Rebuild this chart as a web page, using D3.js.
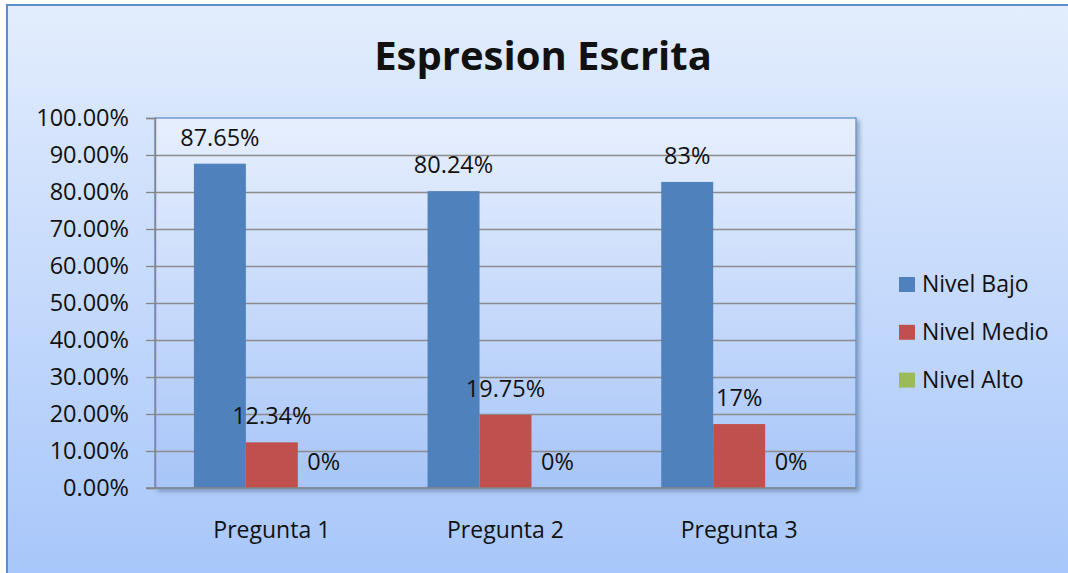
<!DOCTYPE html>
<html>
<head>
<meta charset="utf-8">
<script src="https://cdn.jsdelivr.net/npm/d3@7"></script>
<style>
  html, body { margin: 0; padding: 0; background: #ffffff; }
  svg { display: block; }
  text { font-family: "Open Sans", "Noto Sans", sans-serif; fill: #111; }
</style>
</head>
<body>
<svg id="chart" width="1068" height="573"></svg>
<script>
// ---- data ----
const categories = ["Pregunta 1", "Pregunta 2", "Pregunta 3"];
const series = ["Nivel Bajo", "Nivel Medio", "Nivel Alto"];
const nivelBajo  = [87.65, 80.24, 82.72];
const nivelMedio = [12.34, 19.75, 17.28];
const nivelAlto  = [0, 0, 0];
const labelsBajo  = ["87.65%", "80.24%", "83%"];
const labelsMedio = ["12.34%", "19.75%", "17%"];
const labelsAlto  = ["0%", "0%", "0%"];
const yTicks = [0, 10, 20, 30, 40, 50, 60, 70, 80, 90, 100];
const title = "Espresion Escrita";
const colors = ["#4f81bd", "#c0504d", "#9bbb59"];

const seriesValues = [nivelBajo, nivelMedio, nivelAlto];
const seriesLabels = [labelsBajo, labelsMedio, labelsAlto];

const svg = d3.select("#chart");
const W = 1068, H = 573;
const plot = { left: 155, top: 118, right: 856, bottom: 488 };

const defs = svg.append("defs");
const bgGrad = defs.append("linearGradient").attr("id", "bgGrad")
  .attr("x1", 0).attr("y1", 0).attr("x2", 0).attr("y2", 1);
bgGrad.append("stop").attr("offset", "0%").attr("stop-color", "#e3edfd");
bgGrad.append("stop").attr("offset", "100%").attr("stop-color", "#a5c5fa");

const plotGrad = defs.append("linearGradient").attr("id", "plotGrad")
  .attr("x1", 0).attr("y1", 0).attr("x2", 0).attr("y2", 1);
plotGrad.append("stop").attr("offset", "0%").attr("stop-color", "#e7effe");
plotGrad.append("stop").attr("offset", "100%").attr("stop-color", "#a7c5f8");

const shadow = defs.append("filter").attr("id", "shadow")
  .attr("x", "-5%").attr("y", "-5%").attr("width", "115%").attr("height", "115%");
shadow.append("feDropShadow").attr("dx", 3).attr("dy", 3).attr("stdDeviation", 2)
  .attr("flood-color", "#5a6f90").attr("flood-opacity", 0.55);

// outer chart area
svg.append("rect").attr("x", 7).attr("y", 5).attr("width", W + 20).attr("height", H + 20)
  .attr("fill", "url(#bgGrad)").attr("stroke", "#5b8ccc").attr("stroke-width", 2);

// plot area
svg.append("rect")
  .attr("x", plot.left).attr("y", plot.top)
  .attr("width", plot.right - plot.left).attr("height", plot.bottom - plot.top)
  .attr("fill", "url(#plotGrad)").attr("stroke", "#6f9bd3").attr("stroke-width", 1.5)
  .attr("filter", "url(#shadow)");

// scales
const x0 = d3.scaleBand().domain(categories).range([plot.left, plot.right])
  .paddingInner(0.333).paddingOuter(0.1665);
const x1 = d3.scaleBand().domain(series).range([0, x0.bandwidth()]);
const y = d3.scaleLinear().domain([0, 100]).range([plot.bottom, plot.top]);

// gridlines
const grid = svg.append("g").attr("transform", `translate(${plot.left},0)`)
  .call(d3.axisLeft(y).tickValues(yTicks.slice(1, -1)).tickSize(-(plot.right - plot.left)).tickFormat(""));
grid.select(".domain").remove();
grid.selectAll("line").attr("stroke", "#8c8c8c").attr("stroke-width", 1.3);

// y axis
const yAxis = svg.append("g").attr("transform", `translate(${plot.left},0)`)
  .call(d3.axisLeft(y).tickValues(yTicks).tickSize(9).tickPadding(17)
    .tickFormat(d => d.toFixed(2) + "%"));
yAxis.select(".domain").attr("stroke", "#868686").attr("stroke-width", 1.5);
yAxis.selectAll("line").attr("stroke", "#868686").attr("stroke-width", 1.3);
yAxis.selectAll("text").attr("font-size", "23.5px").attr("fill", "#111")
  .style("font-family", '"Open Sans", sans-serif');

// bars
const groups = svg.append("g").selectAll("g").data(categories).join("g")
  .attr("transform", d => `translate(${x0(d)},0)`);

series.forEach((s, si) => {
  groups.append("rect")
    .attr("x", x1(s))
    .attr("width", x1.bandwidth())
    .attr("y", (d, ci) => y(seriesValues[si][ci]))
    .attr("height", (d, ci) => y(0) - y(seriesValues[si][ci]))
    .attr("fill", colors[si]);
});

// x axis line (bottom)
svg.append("line")
  .attr("x1", plot.left - 9).attr("x2", plot.right)
  .attr("y1", y(0)).attr("y2", y(0))
  .attr("stroke", "#868686").attr("stroke-width", 1.5);

// value labels
series.forEach((s, si) => {
  groups.append("text")
    .attr("x", x1(s) + x1.bandwidth() / 2)
    .attr("y", (d, ci) => y(seriesValues[si][ci]) - 18)
    .attr("text-anchor", "middle")
    .attr("font-size", "23.5px")
    .text((d, ci) => seriesLabels[si][ci]);
});

// category labels
svg.append("g").selectAll("text").data(categories).join("text")
  .attr("x", d => x0(d) + x0.bandwidth() / 2)
  .attr("y", 538)
  .attr("text-anchor", "middle")
  .attr("font-size", "23px")
  .text(d => d);

// title
svg.append("text")
  .attr("x", 543).attr("y", 70)
  .attr("text-anchor", "middle")
  .attr("font-size", "40px")
  .attr("font-weight", "bold")
  .text(title);

// legend
const legend = svg.append("g").selectAll("g").data(series).join("g")
  .attr("transform", (d, i) => `translate(899,${277 + i * 47.8})`);
legend.append("rect").attr("width", 16).attr("height", 15)
  .attr("fill", (d, i) => colors[i]);
legend.append("text").attr("x", 23).attr("y", 15)
  .attr("font-size", "23px")
  .text(d => d);
</script>
</body>
</html>
